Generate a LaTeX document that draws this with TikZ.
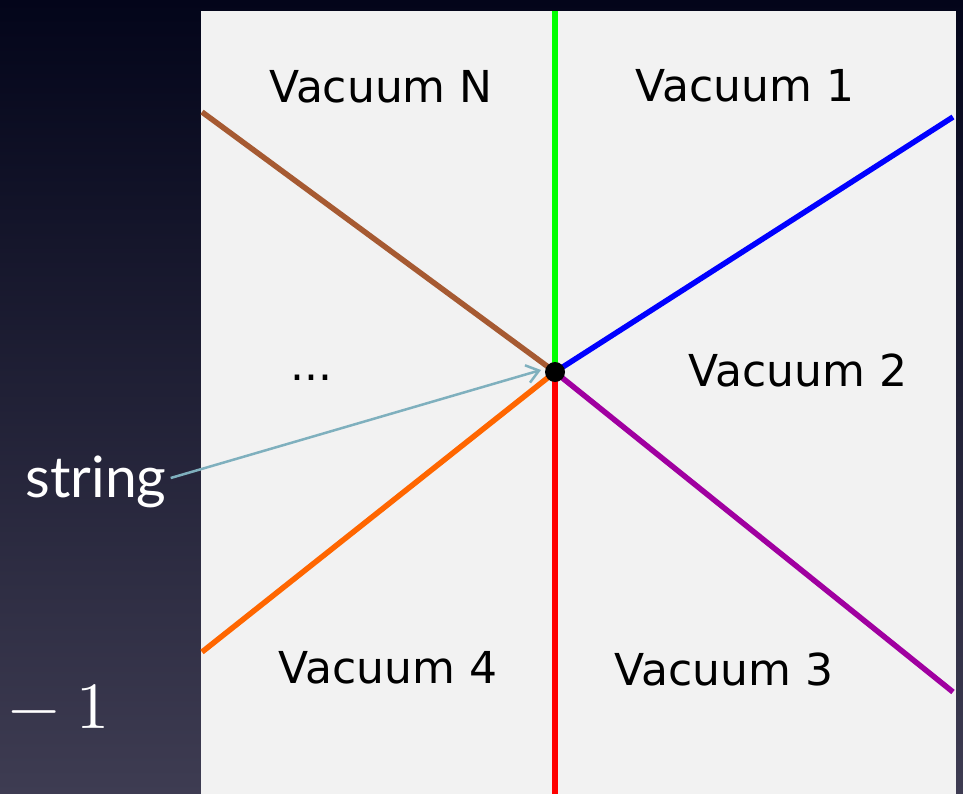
\documentclass[tikz,border=0pt]{standalone}
\usepackage{fontspec}
\setmainfont{DejaVu Sans}
\newfontfamily\gillfont{Lato}
\newfontfamily\lmfont{Latin Modern Math}
\usetikzlibrary{arrows.meta}
\definecolor{panelgray}{HTML}{F2F2F2}
\definecolor{skytop}{HTML}{03051A}
\definecolor{skymid}{HTML}{1C2038}
\definecolor{skybottom}{HTML}{3E3C52}
\definecolor{wallbrown}{HTML}{A65A32}
\definecolor{wallpurple}{HTML}{A000A0}
\definecolor{wallorange}{HTML}{FF6600}
\definecolor{stringblue}{HTML}{7FB0BE}
\tikzset{
  wall/.style={line width=5.5pt},
  vaclabel/.style={anchor=base,text=black,font=\fontsize{44}{52}\selectfont},
  strarrow/.style={draw=stringblue,line width=2.5pt,-{Straight Barb[length=12pt,width=18pt]}}
}
\begin{document}
\begin{tikzpicture}[x=1pt,y=-1pt]
\useasboundingbox (0,0) rectangle (963,794);
\shade[top color=skytop,middle color=skymid,bottom color=skybottom] (0,0) rectangle (963,794);
\fill[panelgray] (201,11) rectangle (956,794);
% junction and wall ends
\coordinate (mid) at (555,372);
\coordinate (endN) at (202,112);
\coordinate (endtop) at (555,11);
\coordinate (end1) at (953,117);
\coordinate (end3) at (953,692);
\coordinate (endbot) at (555,794);
\coordinate (end4) at (202,652);
\draw[wall,wallbrown] (endN) -- (mid);
\draw[wall,green] (endtop) -- (mid);
\draw[wall,blue] (end1) -- (mid);
\draw[wall,wallpurple] (end3) -- (mid);
\draw[wall,red] (endbot) -- (mid);
\draw[wall,wallorange] (end4) -- (mid);
\fill[black] (mid) circle (10pt);
% vacua
\node[vaclabel] (vacN) at (381,103) {Vacuum N};
\node[vaclabel] (vac1) at (745,102) {Vacuum 1};
\node[vaclabel] (vac2) at (798,386) {Vacuum 2};
\node[vaclabel] (vac3) at (724,685) {Vacuum 3};
\node[vaclabel] (vac4) at (388,683) {Vacuum 4};
\node[vaclabel] (dots) at (311,380) {...};
% labels on the left
\node[anchor=base,text=white,font=\gillfont\fontsize{57}{64}\selectfont,inner sep=0pt] (string) at (96,497) {string};
\node[anchor=base west,text=white,font=\lmfont\fontsize{66}{80}\selectfont,inner sep=0pt] (minusone) at (8,728) {−\hspace{17pt}1};
\coordinate (tip) at (541,370);
\draw[strarrow] ([xshift=4pt,yshift=19pt]string.base east) -- (tip);
\end{tikzpicture}
\end{document}
